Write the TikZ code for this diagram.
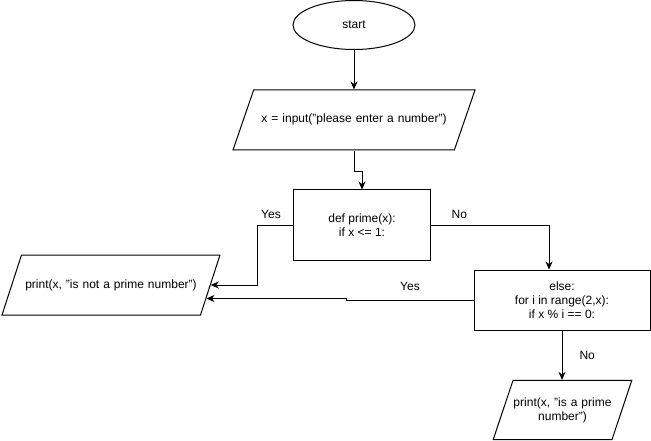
\documentclass[tikz,border=0pt]{standalone}
\usepackage{fontspec}
\setmainfont{Liberation Sans}
\usetikzlibrary{shapes.geometric,arrows.meta}

\begin{document}
\begin{tikzpicture}[x=1pt,y=-1pt,line width=1pt,
		every node/.style={black, font=\fontsize{12}{14}\selectfont, align=center, inner sep=0pt},
		box/.style={draw, rectangle, minimum width=137pt, minimum height=70pt},
		io/.style={draw, trapezium, inner ysep=24.5pt, text height=8.5pt, text depth=2.5pt},
		arrow/.style={-{Stealth[length=8pt,width=7pt,inset=2.5pt]}}]
				\useasboundingbox (0,0) rectangle (651,441);
				% shapes
				\node[draw, ellipse, minimum width=122pt, minimum height=49pt] (start) at (354,25) {start};
				\node[io, text width=200.7pt, trapezium left angle=71, trapezium right angle=109] (input) at (354,120) {x = input("please enter a number")};
				\node[box] (prime) at (362,225) {def prime(x):\\if x <= 1:};
				\node[io, text width=179pt, trapezium left angle=72, trapezium right angle=108] (notprime) at (111,285) {print(x, "is not a prime number")};
				\node[box, minimum width=176pt, minimum height=60pt] (elsebox) at (562,300) {else:\\for i in range(2,x):\\if x \% i == 0:};
				\node[io, text width=99pt, inner ysep=17pt, text height=, text depth=, trapezium left angle=71.5, trapezium right angle=108.5] (isprime) at (562.5,410) {print(x, "is a prime\\number")};
				% connectors
				\draw[arrow] (start) -- (input);
				\draw[arrow] (input.south) -- ++(0,21) -| (prime.north);
				\draw[arrow] (prime.west) -- node[above=6pt, xshift=-4pt]{Yes} ++(-36,0) |- (notprime.east);
				\draw[arrow] (prime.east) -| node[pos=0.12, above=6pt]{No} ([xshift=-13pt]elsebox.north);
				\draw[arrow] (elsebox.west) -- node[above=9pt]{Yes} ++(-127,0) |- ([shift={(-4.3,13.5)}]notprime.east);
				\draw[arrow] (elsebox.south) -- node[right=17pt]{No} (elsebox.south |- isprime.north);
			\end{tikzpicture}
\end{document}
